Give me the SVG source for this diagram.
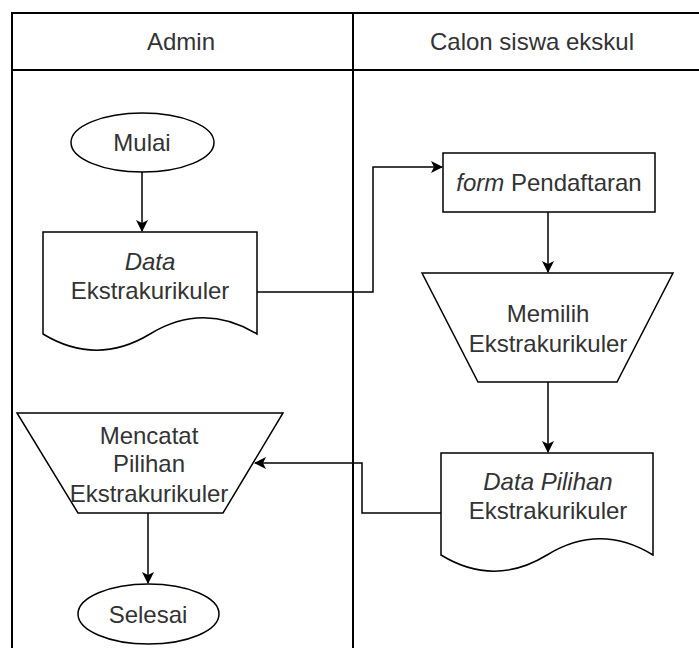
<svg xmlns="http://www.w3.org/2000/svg" width="699" height="648" viewBox="0 0 699 648">
<defs>
<style>
.shape{fill:#fff;stroke:#000;stroke-width:1.5}
.lane{fill:none;stroke:#000;stroke-width:2}
.conn{fill:none;stroke:#000;stroke-width:1.5}
text{font-family:"Liberation Sans",Arial,sans-serif;font-size:24px;fill:#333;text-anchor:middle}
.it{font-style:italic}
</style>
<marker id="arr" viewBox="0 0 12 12" refX="11" refY="6" markerWidth="12" markerHeight="12" markerUnits="userSpaceOnUse" orient="auto">
<path d="M0,0 L12,6 L0,12 L3,6 Z" fill="#000"/>
</marker>
</defs>
<rect width="699" height="648" fill="#fff"/>
<g id="lanes">
<rect class="lane" x="12" y="13" width="700" height="650"/>
<line class="lane" x1="12" y1="70" x2="699" y2="70"/>
<line class="lane" x1="353" y1="13" x2="353" y2="648"/>
<text x="181" y="50">Admin</text>
<text x="532" y="50">Calon siswa ekskul</text>
</g>
<g id="connectors">
<path class="conn" d="M142,172 V231" marker-end="url(#arr)"/>
<path class="conn" d="M257,292 H373 V167 H442" marker-end="url(#arr)"/>
<path class="conn" d="M548,212 V272" marker-end="url(#arr)"/>
<path class="conn" d="M548,382 V452" marker-end="url(#arr)"/>
<path class="conn" d="M441,513 H362 V463 H255" marker-end="url(#arr)"/>
<path class="conn" d="M148,513 V583" marker-end="url(#arr)"/>
</g>
<g id="mulai">
<ellipse class="shape" cx="142.5" cy="142.5" rx="71.5" ry="29.5"/>
<text x="142" y="151">Mulai</text>
</g>
<g id="data-ekstrakurikuler">
<path class="shape" d="M43,232 H257 V334 Q203.5,301.6 150,334 Q96.5,366.4 43,334 Z"/>
<text class="it" x="150" y="269.5">Data</text>
<text x="150" y="299">Ekstrakurikuler</text>
</g>
<g id="form-pendaftaran">
<rect class="shape" x="443" y="153" width="212" height="59"/>
<text x="549" y="190.5"><tspan class="it">form</tspan> Pendaftaran</text>
</g>
<g id="memilih">
<path class="shape" d="M422,273 H673 L617,382 H478 Z"/>
<text x="548" y="321.5">Memilih</text>
<text x="548" y="351.5">Ekstrakurikuler</text>
</g>
<g id="data-pilihan">
<path class="shape" d="M441,453 H653 V555 Q600,522.6 547,555 Q494,587.4 441,555 Z"/>
<text class="it" x="548" y="489.5">Data Pilihan</text>
<text x="548" y="519">Ekstrakurikuler</text>
</g>
<g id="mencatat">
<path class="shape" d="M17,413 H283 L223,513 H78 Z"/>
<text x="149" y="443.5">Mencatat</text>
<text x="149" y="471.5">Pilihan</text>
<text x="149" y="501.5">Ekstrakurikuler</text>
</g>
<g id="selesai">
<ellipse class="shape" cx="148.5" cy="614" rx="70.5" ry="30"/>
<text x="148" y="622.5">Selesai</text>
</g>
</svg>
